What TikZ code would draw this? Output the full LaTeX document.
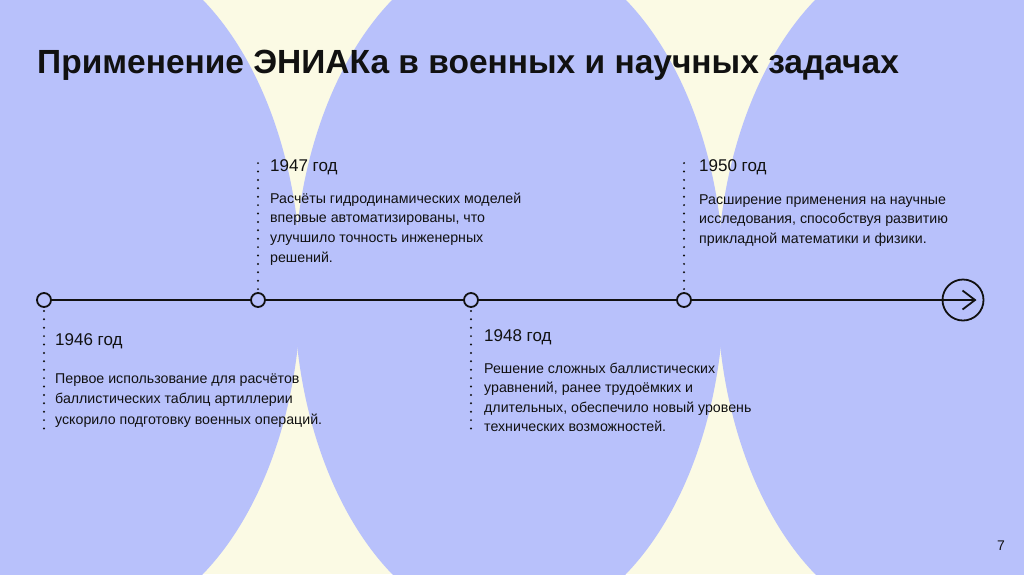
\documentclass[tikz,border=0pt]{standalone}
\usepackage{fontspec}
\setmainfont{Liberation Sans}
\definecolor{cream}{HTML}{FBFAE4}
\definecolor{lav}{HTML}{B8C1FB}
\definecolor{ink}{HTML}{111111}
\tikzset{
  dot/.style={circle, draw=ink, line width=1.8pt, minimum size=14pt, inner sep=0pt},
  endcirc/.style={circle, draw=ink, line width=1.8pt, minimum size=41pt, inner sep=0pt},
  axis/.style={draw=ink, line width=1.8pt},
  dotline/.style={draw=ink, line width=2.2pt, line cap=round, dash pattern=on 0pt off 8.4pt},
  yeartxt/.style={anchor=base west, inner sep=0pt, text=ink, font=\fontsize{17}{20}\selectfont},
  bodytxt/.style={anchor=base west, inner sep=0pt, text=ink},
  titletxt/.style={anchor=base west, inner sep=0pt, text=ink, font=\fontsize{33.5}{38}\selectfont\bfseries}
}
\newcommand{\bodyblock}[2]{\fontsize{14.2}{#1}\selectfont\begin{tabular}[t]{@{}l@{}}#2\end{tabular}}
\begin{document}
\begin{tikzpicture}[x=1pt,y=-1pt]
\useasboundingbox (0,0) rectangle (1024,574);
\fill[cream] (0,0) rectangle (1024,574);
\begin{scope}
  \clip (0,0) rectangle (1024,574);
  \fill[lav] (86,287) ellipse [x radius=215, y radius=342];
  \fill[lav] (509,287) ellipse [x radius=215, y radius=342];
  \fill[lav] (932,287) ellipse [x radius=215, y radius=342];
\end{scope}

\node[titletxt] (title) at (37,73) {Применение ЭНИАКа в военных и научных задачах};

% timeline
\node[dot] (t1) at (44,300) {};
\node[dot] (t2) at (258,300) {};
\node[dot] (t3) at (471,300) {};
\node[dot] (t4) at (684,300) {};
\node[endcirc] (tend) at (963,300) {};
\coordinate (tip) at (975,300);
\coordinate (chu) at (962.5,290.5);
\coordinate (chd) at (962.5,309.5);
\draw[axis] (t1) -- (t2);
\draw[axis] (t2) -- (t3);
\draw[axis] (t3) -- (t4);
\draw[axis] (t4) -- (tip);
\draw[axis, line join=miter] (chu) -- (tip) -- (chd);

% dotted leaders
\coordinate (d1) at (44,434);
\coordinate (d2) at (258,160);
\coordinate (d3) at (471,434);
\coordinate (d4) at (684,160);
\draw[dotline] ([yshift=-3pt]t1.south) -- (d1);
\draw[dotline] ([yshift=3pt]t2.north) -- (d2);
\draw[dotline] ([yshift=-3pt]t3.south) -- (d3);
\draw[dotline] ([yshift=3pt]t4.north) -- (d4);

% texts
\node[yeartxt] (y1) at (55,345) {1946 год};
\node[bodytxt] (b1) at (55,383) {\bodyblock{20.5}{Первое использование для расчётов\\баллистических таблиц артиллерии\\ускорило подготовку военных операций.}};

\node[yeartxt] (y2) at (270,171) {1947 год};
\node[bodytxt] (b2) at (270,203) {\bodyblock{19.7}{Расчёты гидродинамических моделей\\впервые автоматизированы, что\\улучшило точность инженерных\\решений.}};

\node[yeartxt] (y3) at (484,341) {1948 год};
\node[bodytxt] (b3) at (484,373) {\bodyblock{19.5}{Решение сложных баллистических\\уравнений, ранее трудоёмких и\\длительных, обеспечило новый уровень\\технических возможностей.}};

\node[yeartxt] (y4) at (699,171) {1950 год};
\node[bodytxt] (b4) at (699,204) {\bodyblock{19.5}{Расширение применения на научные\\исследования, способствуя развитию\\прикладной математики и физики.}};

\node[anchor=base, inner sep=0pt, text=ink, font=\fontsize{14}{16}\selectfont] (pg) at (1001,550) {7};
\end{tikzpicture}
\end{document}
